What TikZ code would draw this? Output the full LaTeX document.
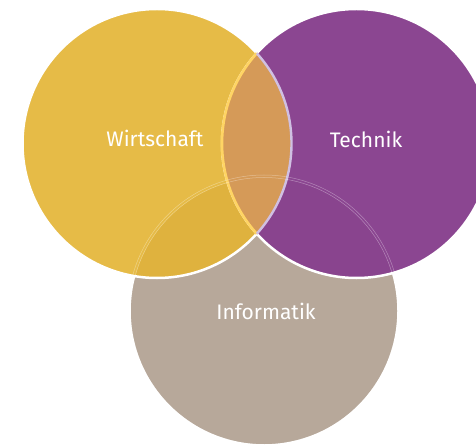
\documentclass[tikz,border=0pt]{standalone}
\usepackage{fontspec}
\setmainfont{Fira Sans}
\definecolor{wigelb}{RGB}{228,180,52}
\definecolor{telila}{RGB}{136,65,142}
\definecolor{infgrau}{RGB}{183,168,154}
\definecolor{schnitt}{RGB}{213,154,88}
\definecolor{randgelb}{RGB}{255,212,100}
\definecolor{randlila}{RGB}{208,192,226}

\begin{document}
\begin{tikzpicture}[x=1pt,y=-1pt,thick,
    rund/.style={draw=white,line width=2.5pt},
    schrift/.style={text=white,font=\fontsize{21}{25}\selectfont}]
  \clip (0,0) rectangle (476,446);
  \fill[white] (0,0) rectangle (476,446);
  % Kreise
  \draw[fill=infgrau,rund] (264,311) circle [radius=134.5pt];
  \draw[fill=wigelb,fill opacity=0.9,rund] (157,143.5) circle [radius=134.5pt];
  \draw[fill=telila,fill opacity=0.97,rund] (356.5,143.5) circle [radius=134.5pt];
  % Schnitt Wirtschaft/Technik
  \begin{scope}
    \clip (157,143.5) circle [radius=134.5pt];
    \fill[schnitt] (356.5,143.5) circle [radius=134.5pt];
    \draw[randgelb,line width=2.6pt] (356.5,143.5) circle [radius=134.5pt];
  \end{scope}
  \begin{scope}
    \clip (356.5,143.5) circle [radius=134.5pt];
    \draw[randlila,line width=2.4pt] (157,143.5) circle [radius=134.5pt];
  \end{scope}
  % feiner Rand von Informatik
  \draw[white,opacity=0.35,line width=0.5pt] (264,311) circle [radius=133.5pt];
  \draw[white,opacity=0.35,line width=0.5pt] (264,311) circle [radius=136pt];
  \node[schrift] (wirtschaft) at (155,138) {Wirtschaft};
  \node[schrift] (technik) at (366,139) {Technik};
  \node[schrift] (informatik) at (266,311) {Informatik};
  %\node at (256,53) {};
  %\node at (256,233) {};
\end{tikzpicture}
\end{document}
